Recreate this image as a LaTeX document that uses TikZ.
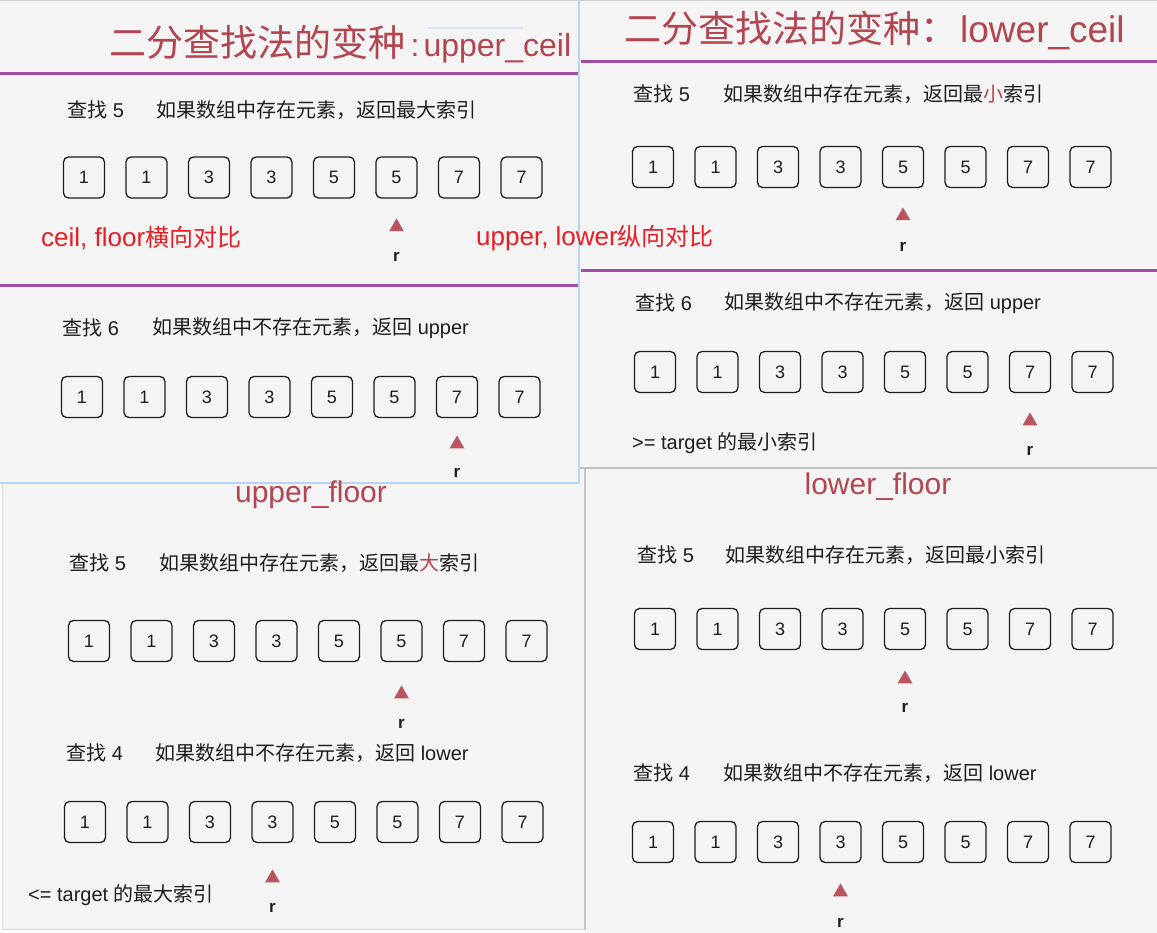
\documentclass[tikz,border=0pt]{standalone}
\usepackage{fontspec}
\setmainfont{Liberation Sans}
\newfontfamily\zh{Noto Sans CJK SC}
\usetikzlibrary{shapes.geometric}
\definecolor{fondo}{RGB}{244,244,244}
\definecolor{morado}{RGB}{163,77,166}
\definecolor{titrojo}{RGB}{178,69,80}
\definecolor{trirojo}{RGB}{186,85,96}
\definecolor{rojo}{RGB}{232,30,36}
\definecolor{azulito}{RGB}{186,211,243}
\definecolor{gris}{RGB}{190,190,190}
\definecolor{tinta}{RGB}{30,30,30}

\begin{document}
\begin{tikzpicture}[x=1pt,y=-1pt,
	caja/.style={draw=tinta,line width=1.3pt,rounded corners=5pt,minimum width=41pt,minimum height=41pt,inner sep=0pt,text=tinta,font=\fontsize{18}{20}\selectfont},
	txt/.style={anchor=west,inner sep=0pt,text=tinta,font=\fontsize{20}{24}\selectfont},
	tri/.style={regular polygon,regular polygon sides=3,fill=trirojo,inner sep=0pt,minimum size=17pt},
	punt/.style={inner sep=0pt,text=tinta,font=\fontsize{17}{20}\selectfont\bfseries},
	titulo/.style={inner sep=0pt,text=titrojo,font=\fontsize{37}{40}\selectfont},
	nota/.style={anchor=west,inner sep=0pt,text=rojo,font=\fontsize{26}{30}\selectfont}]
		\useasboundingbox (0,0) rectangle (1157,933);
		% fondos de las capturas
		\fill[white] (0,0) rectangle (1157,933);
		\fill[fondo] (2,470) rectangle (585,929);
		\draw[gris!60,line width=1pt] (2,470) -- (2,929) -- (585,929);
		\fill[fondo] (585,468) rectangle (1157,933);
		\draw[gris!90,line width=2pt] (585,468) -- (585,930);
		\fill[fondo] (579,0) rectangle (1157,468);
		\draw[gris,line width=2.5pt] (579,468) -- (1157,468);
		\fill[fondo] (0,0) rectangle (579,483);
		\draw[azulito,line width=2.5pt] (579,0) -- (579,483) -- (0,483);
		\draw[gris!70,line width=1.2pt] (0,0.6) -- (1157,0.6);
		\draw[azulito!60,line width=1.5pt] (428,28) -- (523,28);
		% lineas moradas
		\foreach \Xa/\Xb/\Yo in {0/578/74,0/578/286,581/1157/62,581/1157/271}
		{
			\draw[morado,line width=3pt] (\Xa,\Yo) -- (\Xb,\Yo);
		}
		% titulos
		\node[titulo,anchor=west] (titA) at (109,42.5) {\zh 二分查找法的变种};
		\node[titulo,anchor=base west,font=\fontsize{32}{36}\selectfont] (titAb) at ([xshift=5pt]titA.base east) {:\hspace{4pt}upper\_ceil};
		\node[titulo,anchor=west] (titB) at (624,30) {{\zh 二分查找法的变种：}\hspace{3pt}lower\_ceil};
		\node[titulo,font=\fontsize{30}{34}\selectfont] (titC) at (311,495) {upper\_floor};
		\node[titulo,font=\fontsize{30}{34}\selectfont] (titD) at (878,487) {lower\_floor};
		% enunciados
		\foreach \Xa/\Xb/\Yo/\Num/\Frase [count=\k] in 
		{67/156/110/5/{\zh 如果数组中存在元素，返回最大索引},
		 62/152/328/6/{{\zh 如果数组中不存在元素，返回} upper},
		 633/723/94/5/{\zh 如果数组中存在元素，返回最\textcolor{titrojo}{小}索引},
		 635/724/303/6/{{\zh 如果数组中不存在元素，返回} upper},
		 69/159/563/5/{\zh 如果数组中存在元素，返回最\textcolor{titrojo}{大}索引},
		 66/155/753/4/{{\zh 如果数组中不存在元素，返回} lower},
		 637/725/555/5/{\zh 如果数组中存在元素，返回最小索引},
		 633/723/773/4/{{\zh 如果数组中不存在元素，返回} lower}}
		{
			\node[txt] (busca\k) at (\Xa,\Yo) {{\zh 查找} \Num};
			\node[txt] (frase\k) at (\Xb,\Yo) {\Frase};
		}
		\node[txt] (mayorque) at (632,443) {>= target {\zh 的最小索引}};
		\node[txt] (menorque) at (28,895) {<= target {\zh 的最大索引}};
		% cajas del arreglo
		\foreach \Xo/\Yo/\Nom in 
		{84/177.5/a,82/397/b,653/167/c,655/372/d,89/641/e,85/822/f,655/629/g,653/842/h}
		{
			\foreach \Texto [count=\i from 0] in {1,1,3,3,5,5,7,7}
			{
				\node[caja] (\Nom\i) at (\Xo+\i*62.5,\Yo) {\Texto};
			}
		}
		% puntero r
		\foreach \Caja/\Yt/\Yr/\Nom in 
		{a5/227/257/ra,b6/444/473/rb,c4/216/247/rc,d6/421/451/rd,e5/694/724/re,f3/878/908/rf,g4/679/708/rg,h3/892/923/rh}
		{
			\node[tri] (t\Nom) at (\Caja |- 0,\Yt) {};
			\node[punt] (\Nom) at (\Caja |- 0,\Yr) {r};
		}
		% notas en rojo
		\node[nota] (horiz) at (41,238) {ceil, floor{\zh\fontsize{24}{27}\selectfont 横向对比}};
		\node[nota] (vert) at (476,238) {upper, lower{\zh\fontsize{24}{27}\selectfont 纵向对比}};
\end{tikzpicture}
\end{document}
